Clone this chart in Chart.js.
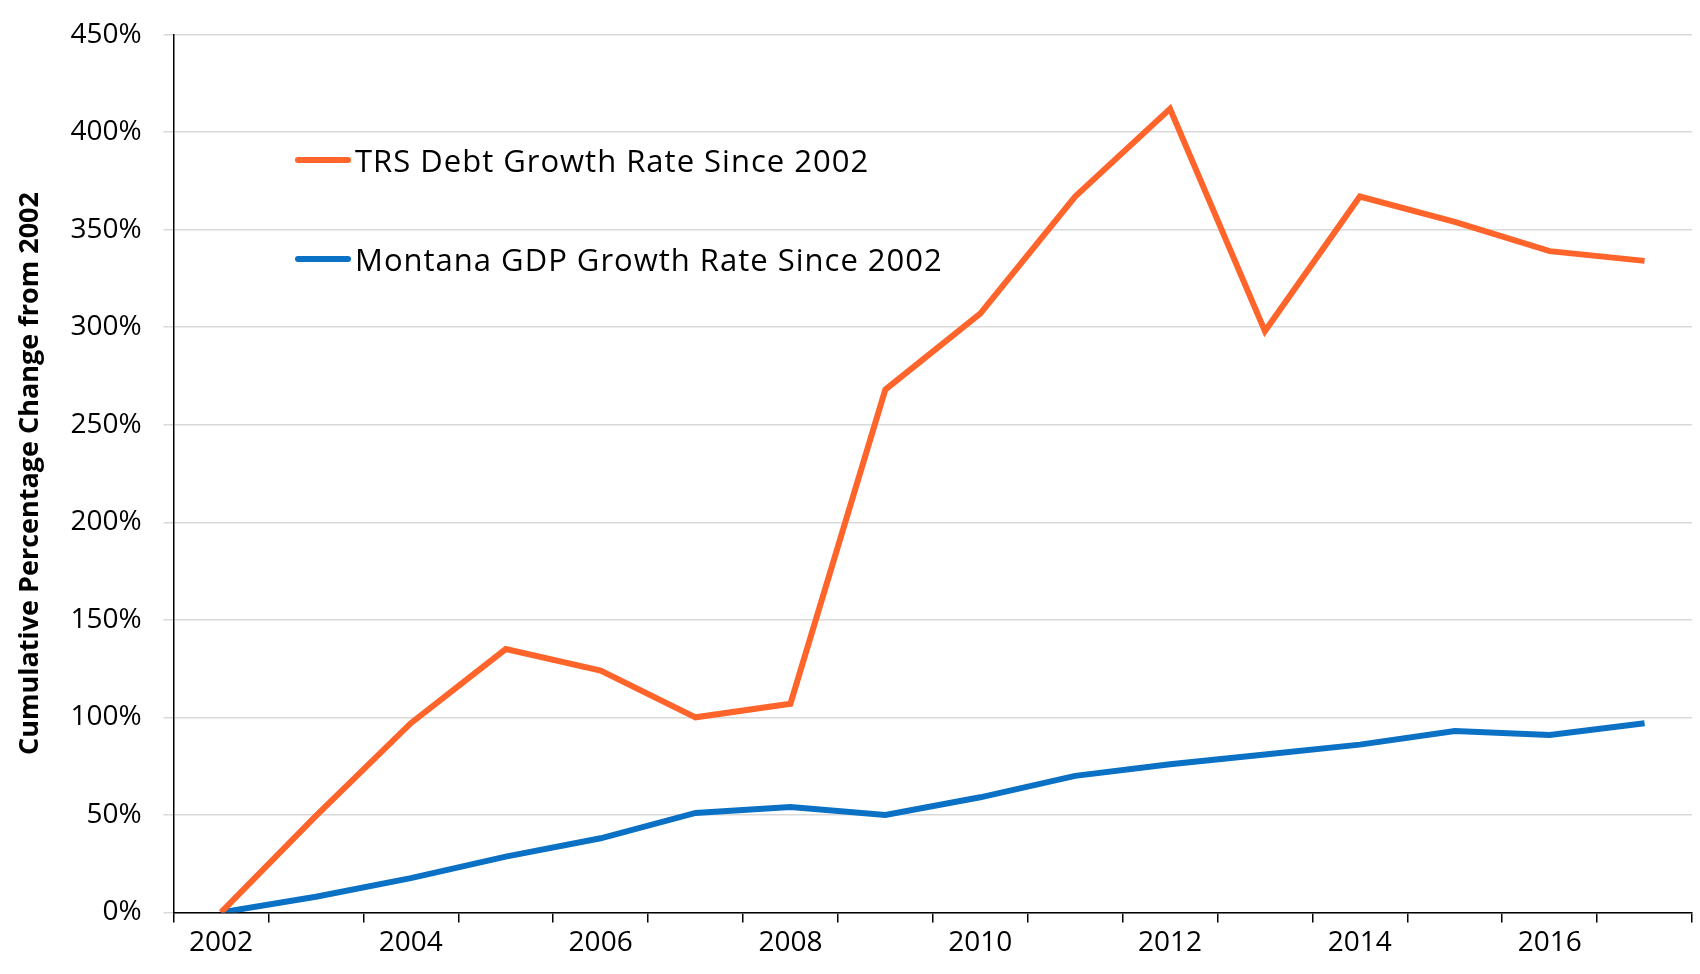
<!DOCTYPE html>
<html><head><meta charset="utf-8">
<script src="https://cdn.jsdelivr.net/npm/chart.js@4"></script>
<style>
body{margin:0;background:#fff;font-family:"Open Sans",sans-serif}
#wrap{position:relative;width:1700px;height:974px}
#legend{position:absolute;left:295px;top:135px;font-size:31px;color:#000;letter-spacing:1px}
#legend div{display:flex;align-items:center;height:50px;margin-bottom:49px}
#legend span{display:inline-block;width:56px;height:6px;border-radius:3px;margin-right:4px}
</style></head><body>
<div id="wrap"><canvas id="c" width="1700" height="974"></canvas>
<div id="legend">
<div><span style="background:#ff642b"></span>TRS Debt Growth Rate Since 2002</div>
<div><span style="background:#0b71c4"></span>Montana GDP Growth Rate Since 2002</div>
</div></div>
<script>
const years = ['2002','2003','2004','2005','2006','2007','2008','2009','2010','2011','2012','2013','2014','2015','2016','2017'];
const trsDebt = [0, 49.5, 97, 135, 124, 100, 107, 268, 307, 367, 412, 298, 367, 354, 339, 334];
const mtGdp = [0, 8, 17.6, 28.6, 38, 51, 54, 50, 59, 70, 76, 81, 86, 93, 91, 97];

new Chart(document.getElementById('c'), {
  type: 'line',
  data: {
    labels: years,
    datasets: [
      {label:'TRS Debt Growth Rate Since 2002', data: trsDebt, borderColor:'#ff642b', borderWidth:6, pointRadius:0, tension:0},
      {label:'Montana GDP Growth Rate Since 2002', data: mtGdp, borderColor:'#0b71c4', borderWidth:6, pointRadius:0, tension:0}
    ]
  },
  options: {
    responsive:false, animation:false,
    layout:{padding:{left:10,right:8,top:0,bottom:10}},
    plugins:{legend:{display:false}, tooltip:{enabled:false}},
    scales:{
      x:{
        offset:true,
        grid:{offset:true, drawOnChartArea:false, color:'#000', tickLength:10, lineWidth:1.5},
        border:{color:'#000', width:1.5},
        ticks:{color:'#000', font:{family:'Open Sans', size:28}, maxRotation:0, autoSkip:false, padding:4,
          callback:(v,i)=> i%2===0 ? years[i] : ''}
      },
      y:{
        min:0, max:450,
        grid:{color:'#d9d9d9', lineWidth:1.5, tickLength:10, drawTicks:true},
        border:{color:'#000', width:1.5},
        ticks:{stepSize:50, color:'#000', font:{family:'Open Sans', size:28, lineHeight:0.9}, padding:22, callback:v=>v+'%'},
        title:{display:true, text:'Cumulative Percentage Change from 2002', color:'#000', padding:{bottom:2}, font:{family:'Open Sans', size:27, weight:'bold'}}
      }
    }
  }
});
</script></body></html>
